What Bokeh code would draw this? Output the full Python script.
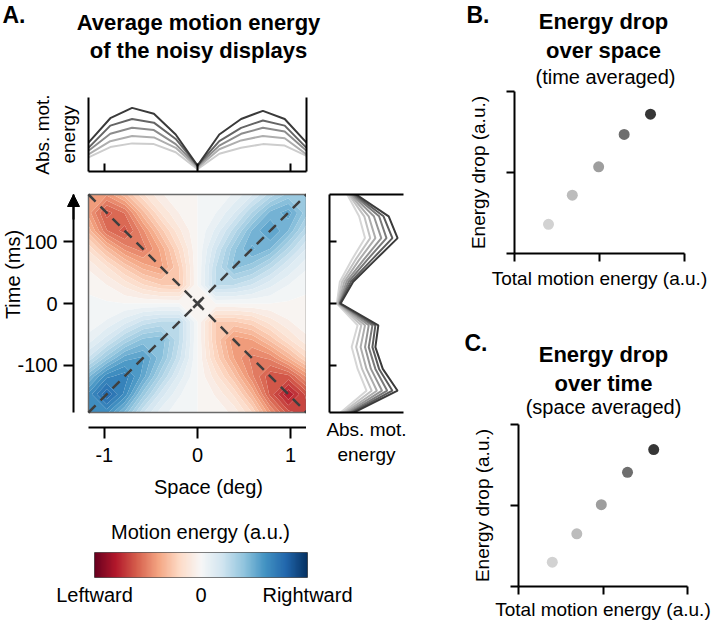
import numpy as np
from bokeh.plotting import figure
from bokeh.layouts import row, column
from bokeh.models import (Range1d, FixedTicker, LinearAxis, Label, Arrow,
                          NormalHead, LinearColorMapper)
from bokeh.embed import file_html
from bokeh.resources import INLINE

FONT = "Liberation Sans"

# ------------------------------------------------------------------ data
space_grid = [-1.17, -0.975, -0.78, -0.585, -0.39, -0.195, 0.0,
              0.195, 0.39, 0.585, 0.78, 0.975, 1.17]
time_grid = [-177.0, -147.5, -118.0, -88.5, -59.0, -29.5, 0.0,
             29.5, 59.0, 88.5, 118.0, 147.5, 177.0]
# rows: time (bottom -> top), columns: space (left -> right); >0 rightward
motion_energy = [
    [0.80, 0.77, 0.55, 0.26, 0.09, 0.02, 0.00, -0.02, -0.08, -0.25, -0.55, -0.79, -0.85],
    [0.77, 1.00, 0.79, 0.47, 0.22, 0.07, 0.00, -0.07, -0.20, -0.44, -0.77, -1.00, -0.79],
    [0.55, 0.79, 0.85, 0.66, 0.39, 0.16, 0.00, -0.16, -0.36, -0.61, -0.80, -0.77, -0.55],
    [0.26, 0.47, 0.66, 0.70, 0.52, 0.27, 0.00, -0.27, -0.50, -0.65, -0.61, -0.44, -0.25],
    [0.09, 0.22, 0.39, 0.52, 0.55, 0.32, 0.00, -0.32, -0.55, -0.50, -0.36, -0.20, -0.08],
    [0.02, 0.07, 0.16, 0.27, 0.32, 0.32, 0.00, -0.32, -0.32, -0.27, -0.16, -0.07, -0.02],
    [0.02, 0.01, 0.00, 0.00, 0.00, 0.00, 0.00, 0.00, 0.00, 0.00, 0.00, -0.01, -0.02],
    [-0.02, -0.06, -0.14, -0.24, -0.31, -0.32, 0.00, 0.32, 0.31, 0.24, 0.14, 0.06, 0.02],
    [-0.07, -0.18, -0.33, -0.46, -0.52, -0.31, 0.00, 0.31, 0.52, 0.46, 0.33, 0.18, 0.07],
    [-0.20, -0.40, -0.58, -0.66, -0.48, -0.24, 0.00, 0.24, 0.48, 0.64, 0.56, 0.36, 0.18],
    [-0.40, -0.68, -0.78, -0.58, -0.34, -0.14, 0.00, 0.14, 0.34, 0.57, 0.70, 0.56, 0.33],
    [-0.53, -0.78, -0.68, -0.40, -0.18, -0.06, 0.00, 0.06, 0.18, 0.38, 0.58, 0.66, 0.46],
    [-0.52, -0.55, -0.40, -0.20, -0.07, -0.02, 0.00, 0.02, 0.07, 0.18, 0.34, 0.46, 0.47],
]
center_space = [0.0]
center_time = [0.0]

# top marginal: abs. motion energy over space (light -> dark)
top_space = [-1.17, -0.936, -0.702, -0.468, -0.234, 0.0, 0.234, 0.468, 0.702, 0.936, 1.17]
top_energy_1 = [0.19, 0.33, 0.38, 0.37, 0.26, 0.03, 0.24, 0.32, 0.37, 0.35, 0.21]
top_energy_2 = [0.23, 0.41, 0.48, 0.46, 0.32, 0.05, 0.30, 0.42, 0.48, 0.45, 0.23]
top_energy_3 = [0.28, 0.51, 0.59, 0.56, 0.37, 0.07, 0.35, 0.51, 0.59, 0.54, 0.28]
top_energy_4 = [0.32, 0.62, 0.71, 0.66, 0.44, 0.08, 0.41, 0.59, 0.69, 0.62, 0.32]
top_energy_5 = [0.39, 0.72, 0.86, 0.78, 0.50, 0.08, 0.50, 0.71, 0.82, 0.71, 0.39]
top_colors = ["#cdcdcd", "#aeaeae", "#8c8c8c", "#656565", "#3a3a3a"]

# side marginal: abs. motion energy over time (light -> dark)
side_time = [177.0, 141.6, 106.2, 70.8, 35.4, 0.0, -35.4, -70.8, -106.2, -141.6, -177.0]
side_energy_1 = [0.24, 0.40, 0.48, 0.30, 0.14, 0.10, 0.38, 0.30, 0.38, 0.50, 0.15]
side_energy_2 = [0.26, 0.47, 0.55, 0.35, 0.17, 0.11, 0.43, 0.36, 0.44, 0.57, 0.18]
side_energy_3 = [0.28, 0.53, 0.62, 0.40, 0.20, 0.12, 0.48, 0.42, 0.50, 0.64, 0.21]
side_energy_4 = [0.30, 0.60, 0.70, 0.46, 0.23, 0.13, 0.53, 0.48, 0.56, 0.71, 0.24]
side_energy_5 = [0.32, 0.67, 0.77, 0.51, 0.26, 0.14, 0.58, 0.53, 0.62, 0.78, 0.27]
side_energy_6 = [0.34, 0.73, 0.85, 0.57, 0.29, 0.14, 0.62, 0.58, 0.67, 0.85, 0.30]
side_energy_7 = [0.36, 0.80, 0.92, 0.62, 0.32, 0.15, 0.66, 0.62, 0.72, 0.92, 0.33]
side_colors = ["#d6d6d6", "#c2c2c2", "#adadad", "#959595", "#7a7a7a", "#5c5c5c", "#3a3a3a"]

# panels B and C
total_energy_b = [0.40, 0.68, 0.99, 1.29, 1.60]
energy_drop_b = [0.36, 0.72, 1.07, 1.47, 1.72]
total_energy_c = [0.40, 0.69, 0.98, 1.29, 1.60]
energy_drop_c = [0.30, 0.65, 1.01, 1.41, 1.69]
dot_colors = ["#d2d2d2", "#bcbcbc", "#9e9e9e", "#6e6e6e", "#363636"]

space_ticks = [-1, 0, 1]
space_tick_labels = ["-1", "0", "1"]
time_ticks = [-100, 0, 100]
time_tick_labels = ["-100", "0", "100"]
bc_ticks = [0, 1, 2]
cbar_ticks = [-1, 0, 1]
cbar_labels = ["Leftward", "0", "Rightward"]
cmap_limit = 1.25

RDBU = ["#67001f", "#b2182b", "#d6604d", "#f4a582", "#fddbc7", "#f7f7f7",
        "#d1e5f0", "#92c5de", "#4393c3", "#2166ac", "#053061"]


def ramp(n):
    rgb = np.array([[int(c[i:i + 2], 16) for i in (1, 3, 5)] for c in RDBU], float)
    pos = np.linspace(0, 1, len(RDBU))
    out = []
    for t in (np.arange(n) + 0.5) / n:
        r, g, b = (int(round(np.interp(t, pos, rgb[:, k]))) for k in range(3))
        out.append("#%02x%02x%02x" % (r, g, b))
    return out


def new_fig(w, h, xr, yr, l=0, r=0, t=0, b=0):
    p = figure(width=w, height=h, x_range=xr, y_range=yr,
               x_axis_type=None, y_axis_type=None,
               toolbar_location=None, output_backend="svg",
               min_border_left=l, min_border_right=r,
               min_border_top=t, min_border_bottom=b)
    p.outline_line_color = None
    p.frame_align = False
    return p


def make_axis(ticks=(), tick_in=0, tick_out=0, labels=None, standoff=5,
              bounds="auto", label=None, label_standoff=5, label_size="20px",
              tick_size="20px", fixed=None):
    ax = LinearAxis(ticker=FixedTicker(ticks=list(ticks)), bounds=bounds)
    if fixed is not None:
        ax.fixed_location = fixed
    ax.axis_line_color = "black"
    ax.axis_line_width = 2
    ax.major_tick_line_color = "black"
    ax.major_tick_line_width = 2
    ax.major_tick_in = tick_in
    ax.major_tick_out = tick_out
    ax.minor_tick_line_color = None
    ax.major_label_text_font = FONT
    if labels is not None:
        ax.major_label_text_color = "black"
        ax.major_label_text_font_size = tick_size
        ax.major_label_standoff = standoff
        ax.major_label_overrides = {t: s for t, s in zip(ticks, labels)}
    else:
        ax.major_label_text_color = None
        ax.major_label_text_font_size = "1px"
        ax.major_label_standoff = 0
    if label:
        ax.axis_label = label
        ax.axis_label_text_font = FONT
        ax.axis_label_text_font_size = label_size
        ax.axis_label_text_font_style = "normal"
        ax.axis_label_text_color = "black"
        ax.axis_label_standoff = label_standoff
    return ax


def text_fig(w, h):
    return new_fig(w, h, Range1d(0, w), Range1d(h, 0))


def put(p, x, y, txt, size, bold=False, align="center", angle=0.0):
    p.add_layout(Label(x=x, y=y, text=txt, text_font=FONT, text_font_size=size,
                       text_font_style="bold" if bold else "normal",
                       text_align=align, text_baseline="middle", angle=angle,
                       text_color="black"))


x0, x1 = min(space_grid), max(space_grid)
t0, t1 = min(time_grid), max(time_grid)

# ------------------------------------------------------------ panel A
pAt = text_fig(420, 88)
put(pAt, 2, 14, "A.", "23px", bold=True, align="left")
put(pAt, 198, 21.5, "Average motion energy", "22px", bold=True)
put(pAt, 198, 49.5, "of the noisy displays", "22px", bold=True)

# top marginal
pTop = new_fig(420, 97, Range1d(x0, x1), Range1d(0, 1), l=88, r=114, t=9, b=14)
pTop.add_layout(make_axis(space_ticks, tick_in=8), "below")
pTop.add_layout(make_axis(label="Abs. mot.\nenergy", label_standoff=10,
                          label_size="19px"), "left")
pTop.add_layout(make_axis(), "right")
for vals, col in zip([top_energy_1, top_energy_2, top_energy_3, top_energy_4, top_energy_5],
                     top_colors):
    pTop.line(top_space, vals, line_color=col, line_width=2)

# heat map (frame covers the whole canvas; axes sit at fixed locations)
px_per_deg = 218.0 / (x1 - x0)
px_per_ms = 218.0 / (t1 - t0)
heat_xr = Range1d(x0 - 88 / px_per_deg, x1)
heat_yr = Range1d(t0 - 93 / px_per_ms, t1 + 9 / px_per_ms)
pHeat = new_fig(306, 320, heat_xr, heat_yr)
levels = np.linspace(-cmap_limit, cmap_limit, 41)
pHeat.contour(space_grid, time_grid, np.array(motion_energy), levels,
              fill_color=ramp(len(levels) - 1), line_color=None)
pHeat.quad(left=x0, right=x1, bottom=t0, top=t1, fill_color=None,
           line_color="#6a6a6a", line_width=1.5)
pHeat.line([x0, x1], [t0, t1], line_color="#3f3f3f", line_width=2.5, line_dash="10 7")
pHeat.line([x0, x1], [t1, t0], line_color="#3f3f3f", line_width=2.5, line_dash="10 7")
pHeat.scatter(center_space, center_time, marker="x", size=12, line_width=2.5,
              line_color="#3f3f3f")
time_axis_x = x0 - 15 / px_per_deg
space_axis_t = t0 - 15 / px_per_ms
pHeat.add_layout(make_axis(time_ticks, tick_out=10, labels=time_tick_labels, standoff=6,
                           bounds=(t0, t1), fixed=time_axis_x), "left")
pHeat.add_layout(make_axis(space_ticks, tick_out=11, labels=space_tick_labels, standoff=9,
                           bounds=(x0, x1), fixed=space_axis_t), "below")
pHeat.add_layout(Arrow(end=NormalHead(size=12, fill_color="black", line_color="black"),
                       x_start=time_axis_x, y_start=t1 - 25 / px_per_ms,
                       x_end=time_axis_x, y_end=t1,
                       line_color="black", line_width=2))
put(pHeat, x0 - 76 / px_per_deg, t1 - 80 / px_per_ms, "Time (ms)", "20px",
    angle=np.pi / 2)
put(pHeat, 11 / px_per_deg, t0 - 74 / px_per_ms, "Space (deg)", "20px")

# side marginal
pSide = new_fig(114, 320, Range1d(0, 1), Range1d(t0, t1), l=23, r=17, t=9, b=93)
pSide.add_layout(make_axis(time_ticks, tick_in=7), "left")
pSide.add_layout(make_axis(), "above")
pSide.add_layout(make_axis(label="Abs. mot.\nenergy", label_standoff=6,
                           label_size="19px"), "below")
for vals, col in zip([side_energy_1, side_energy_2, side_energy_3, side_energy_4,
                      side_energy_5, side_energy_6, side_energy_7], side_colors):
    pSide.line(vals, side_time, line_color=col, line_width=2)

# colour bar
pCBt = text_fig(420, 45)
put(pCBt, 200, 26, "Motion energy (a.u.)", "20px")
pCB = new_fig(420, 72, Range1d(-1, 1), Range1d(0, 1), l=94, r=113, t=2, b=45)
pCB.outline_line_color = "#555555"
mapper = LinearColorMapper(palette=ramp(256), low=-cmap_limit, high=cmap_limit)
colorbar_ramp = np.linspace(-cmap_limit, cmap_limit, 256).reshape(1, -1)
pCB.image(image=[colorbar_ramp], x=-1, y=0, dw=2, dh=1, color_mapper=mapper)
cb_axis = make_axis(cbar_ticks, labels=cbar_labels, standoff=6)
cb_axis.axis_line_color = None
cb_axis.major_tick_line_color = None
pCB.add_layout(cb_axis, "below")

colA = column(pAt, pTop, row(pHeat, pSide), pCBt, pCB)

# ------------------------------------------------------------ panels B, C
pBt = text_fig(294, 90)
put(pBt, 46, 14, "B.", "23px", bold=True, align="left")
put(pBt, 183, 21, "Energy drop", "22px", bold=True)
put(pBt, 183, 50, "over space", "22px", bold=True)
put(pBt, 185, 76, "(time averaged)", "20px")

pB = new_fig(294, 210, Range1d(0, 2), Range1d(0, 2), l=94, r=30, t=1, b=47)
pB.add_layout(make_axis(bc_ticks, tick_out=8, label="Energy drop (a.u.)",
                        label_standoff=18, label_size="19px"), "left")
pB.add_layout(make_axis(bc_ticks, tick_out=8, label="Total motion energy (a.u.)",
                        label_standoff=6, label_size="19px"), "below")
pB.scatter(total_energy_b, energy_drop_b, size=11, fill_color=dot_colors, line_color=None)

pCt = text_fig(294, 120)
put(pCt, 44, 42, "C.", "23px", bold=True, align="left")
put(pCt, 183, 54, "Energy drop", "22px", bold=True)
put(pCt, 183, 83, "over time", "22px", bold=True)
put(pCt, 183, 106, "(space averaged)", "20px")

pC = new_fig(294, 202, Range1d(0, 2), Range1d(0, 2), l=98, r=27, t=4, b=36)
pC.add_layout(make_axis(bc_ticks, tick_out=8, label="Energy drop (a.u.)",
                        label_standoff=18, label_size="19px"), "left")
pC.add_layout(make_axis(bc_ticks, tick_out=8, label="Total motion energy (a.u.)",
                        label_standoff=4, label_size="19px"), "below")
pC.scatter(total_energy_c, energy_drop_c, size=11, fill_color=dot_colors, line_color=None)

colB = column(pBt, pB, pCt, pC)

layout = row(colA, colB)
open("out.html", "w").write(file_html(layout, INLINE))
